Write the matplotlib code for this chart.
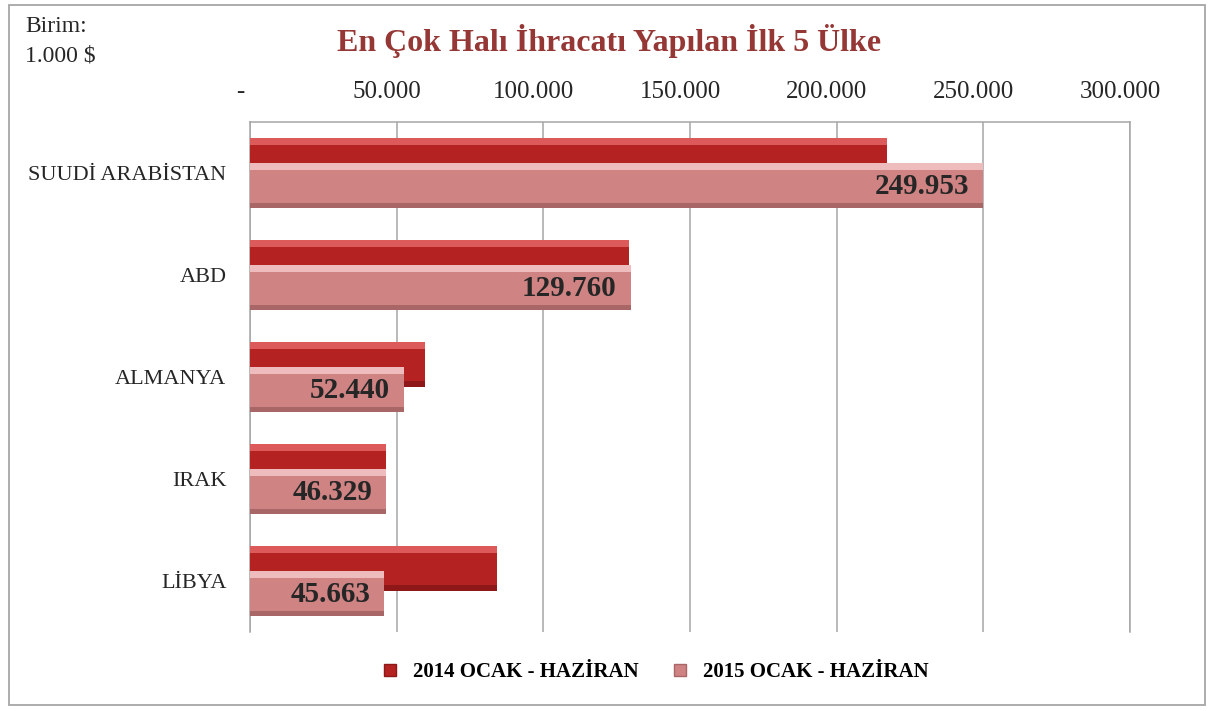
import matplotlib.pyplot as plt
import matplotlib.transforms as mtransforms
from matplotlib.lines import Line2D
from matplotlib.patches import Rectangle
import numpy as np

plt.rcParams['font.family'] = ['Liberation Serif', 'DejaVu Serif']

# data (unit: 1.000 $)
countries = ['SUUDİ ARABİSTAN', 'ABD', 'ALMANYA', 'IRAK', 'LİBYA']
exports_2014 = [217200, 129300, 59700, 46400, 84200]
exports_2015 = [249953, 129760, 52440, 46329, 45663]
series_names = ['2014 OCAK - HAZİRAN', '2015 OCAK - HAZİRAN']
x_ticks = [0, 50000, 100000, 150000, 200000, 250000, 300000]

# colours: base, top highlight, bottom shade
c14 = ('#b42222', '#dc5a5a', '#8e1818')
c15 = ('#cf8383', '#eebcbc', '#a86666')


def fmt(v):
    return '-' if v == 0 else f'{v:,}'.replace(',', '.')


def shaded_barh(ax, y, vals, h, cols, z):
    ax.barh(y, vals, height=h, color=cols[0], edgecolor='none', zorder=z)
    # light band along the top edge
    ax.barh(y - h * 0.42, vals, height=h * 0.16, color=cols[1], edgecolor='none', zorder=z + 0.1)
    # darker band along the bottom edge
    ax.barh(y + h * 0.44, vals, height=h * 0.12, color=cols[2], edgecolor='none', zorder=z + 0.1)


fig = plt.figure(figsize=(12.13, 7.11), dpi=100)
ax = fig.add_axes([0.2061, 0.1111, 0.7255, 0.7173])

y = np.arange(len(countries))
h = 0.44
shaded_barh(ax, y - 0.125, exports_2014, h, c14, 3)
shaded_barh(ax, y + 0.125, exports_2015, h, c15, 4)

for yi, v in zip(y, exports_2015):
    ax.annotate(fmt(v), (v, yi + 0.13), xytext=(-10, 0), textcoords='offset points',
                ha='right', va='center', fontsize=21, fontweight='bold',
                color='#262626', zorder=6)

ax.set_xlim(0, 300000)
ax.set_ylim(len(countries) - 0.5, -0.5)
ax.set_xticks(x_ticks)
ax.set_xticklabels([fmt(t) for t in x_ticks])
ax.xaxis.tick_top()
ax.tick_params(axis='x', length=0, pad=14, labelsize=18, labelcolor='#262626')
offset = mtransforms.ScaledTranslation(-10 / 100, 0, fig.dpi_scale_trans)
for lbl in ax.get_xticklabels():
    lbl.set_transform(lbl.get_transform() + offset)

ax.set_yticks(y)
ax.set_yticklabels(countries)
ax.tick_params(axis='y', length=0, pad=17, labelsize=16, labelcolor='#262626')

ax.grid(axis='x', color='#a6a6a6', linewidth=1.1, zorder=0)
ax.set_axisbelow(True)
for s in ['top', 'right', 'left']:
    ax.spines[s].set_color('#a6a6a6')
    ax.spines[s].set_linewidth(1.1)
ax.spines['bottom'].set_visible(False)

fig.text(0.502, 0.942, 'En Çok Halı İhracatı Yapılan İlk 5 Ülke', ha='center', va='center',
         fontsize=23, fontweight='bold', color='#953735')
fig.text(0.021, 0.978, 'Birim:\n1.000 $', ha='left', va='top', fontsize=17,
         color='#262626', linespacing=1.55)

handles = [Line2D([], [], marker='s', linestyle='none', markersize=9,
                  markerfacecolor=c14[0], markeredgecolor=c14[2]),
           Line2D([], [], marker='s', linestyle='none', markersize=9,
                  markerfacecolor=c15[0], markeredgecolor=c15[2])]
fig.legend(handles, series_names, loc='center', bbox_to_anchor=(0.535, 0.055), ncol=2,
           frameon=False, handletextpad=0.1, columnspacing=1.0,
           prop={'size': 15, 'weight': 'bold'})

fig.patches.append(Rectangle((0.0072, 0.0084), 0.986, 0.9845, transform=fig.transFigure,
                             fill=False, edgecolor='#a6a6a6', linewidth=1.3))

fig.savefig('out.png', dpi=100)
